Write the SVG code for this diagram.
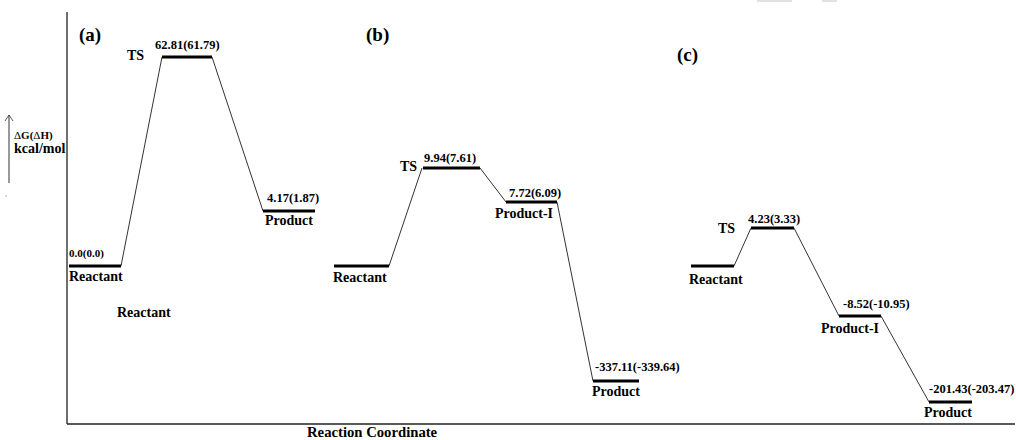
<svg xmlns="http://www.w3.org/2000/svg" width="1016" height="440" viewBox="0 0 1016 440">
<defs>
<style>
text{font-family:"Liberation Serif","Times New Roman",serif;font-weight:bold;fill:#000}
.lvl{stroke:#000;stroke-width:3;fill:none}
.con{stroke:#333;stroke-width:1;fill:none}
.ax{stroke:#222;stroke-width:1.3;fill:none}
.val{font-size:12.5px}
.lab{font-size:14px}
.pan{font-size:19px}
</style>
</defs>
<rect width="1016" height="440" fill="#fff"/>
<rect x="757" y="0" width="35" height="2" fill="#e2e2e2"/>
<rect x="822" y="0" width="15" height="2" fill="#e2e2e2"/>
<g id="axes">
<line class="ax" x1="67" y1="12" x2="67" y2="424"/>
<line class="ax" x1="67" y1="424" x2="1015" y2="424"/>
<text x="307" y="437" style="font-size:14.7px">Reaction Coordinate</text>
<line x1="9" y1="183" x2="9" y2="115" stroke="#333" stroke-width="1"/>
<path d="M5,121 L9,115 L13,121" stroke="#333" stroke-width="0.8" fill="none"/>
<text x="14" y="139" style="font-size:11px"><tspan font-weight="normal">Δ</tspan>G(<tspan font-weight="normal">Δ</tspan>H)</text>
<text x="14" y="153" class="lab">kcal/mol</text>
<circle cx="6" cy="196" r="0.6" fill="#555"/>
</g>
<g id="connectors">
<line class="con" x1="121" y1="266" x2="162" y2="57"/>
<line class="con" x1="212" y1="57" x2="263" y2="211"/>
<line class="con" x1="389" y1="266" x2="422" y2="168"/>
<line class="con" x1="480" y1="168" x2="506" y2="202"/>
<line class="con" x1="557" y1="202" x2="593" y2="381"/>
<line class="con" x1="734" y1="266" x2="751" y2="228"/>
<line class="con" x1="794" y1="228" x2="839" y2="316"/>
<line class="con" x1="881" y1="316" x2="929" y2="402"/>
</g>
<g id="panel-a">
<text x="79" y="41" class="pan">(a)</text>
<g id="a-reactant">
<line class="lvl" x1="69" y1="266" x2="121" y2="266"/>
<text x="69" y="257" style="font-size:11px">0.0(0.0)</text>
<text x="69" y="281" class="lab">Reactant</text>
</g>
<g id="a-ts">
<line class="lvl" x1="162" y1="57" x2="212" y2="57"/>
<text x="155" y="49" class="val">62.81(61.79)</text>
<text x="127" y="60" class="lab">TS</text>
</g>
<g id="a-product">
<line class="lvl" x1="263" y1="211" x2="315" y2="211"/>
<text x="267" y="202" class="val">4.17(1.87)</text>
<text x="265" y="225" class="lab">Product</text>
</g>
<text x="117" y="317" class="lab">Reactant</text>
</g>
<g id="panel-b">
<text x="366" y="41" class="pan">(b)</text>
<g id="b-reactant">
<line class="lvl" x1="334" y1="266" x2="389" y2="266"/>
<text x="333" y="282" class="lab">Reactant</text>
</g>
<g id="b-ts">
<line class="lvl" x1="423" y1="168" x2="480" y2="168"/>
<text x="424" y="162" class="val">9.94(7.61)</text>
<text x="400" y="171" class="lab">TS</text>
</g>
<g id="b-product-i">
<line class="lvl" x1="506" y1="202" x2="557" y2="202"/>
<text x="509" y="197" class="val">7.72(6.09)</text>
<text x="495" y="218" class="lab">Product-I</text>
</g>
<g id="b-product">
<line class="lvl" x1="593" y1="381" x2="639" y2="381"/>
<text x="595" y="371" class="val">-337.11(-339.64)</text>
<text x="592" y="396" class="lab">Product</text>
</g>
</g>
<g id="panel-c">
<text x="677" y="61" class="pan">(c)</text>
<g id="c-reactant">
<line class="lvl" x1="691" y1="266" x2="734" y2="266"/>
<text x="689" y="284" class="lab">Reactant</text>
</g>
<g id="c-ts">
<line class="lvl" x1="751" y1="228" x2="794" y2="228"/>
<text x="748" y="223" class="val">4.23(3.33)</text>
<text x="718" y="233" class="lab">TS</text>
</g>
<g id="c-product-i">
<line class="lvl" x1="839" y1="316" x2="881" y2="316"/>
<text x="843" y="308" class="val">-8.52(-10.95)</text>
<text x="821" y="333" class="lab">Product-I</text>
</g>
<g id="c-product">
<line class="lvl" x1="929" y1="402" x2="972" y2="402"/>
<text x="929" y="393" class="val">-201.43(-203.47)</text>
<text x="924" y="417" class="lab">Product</text>
</g>
</g>
</svg>
